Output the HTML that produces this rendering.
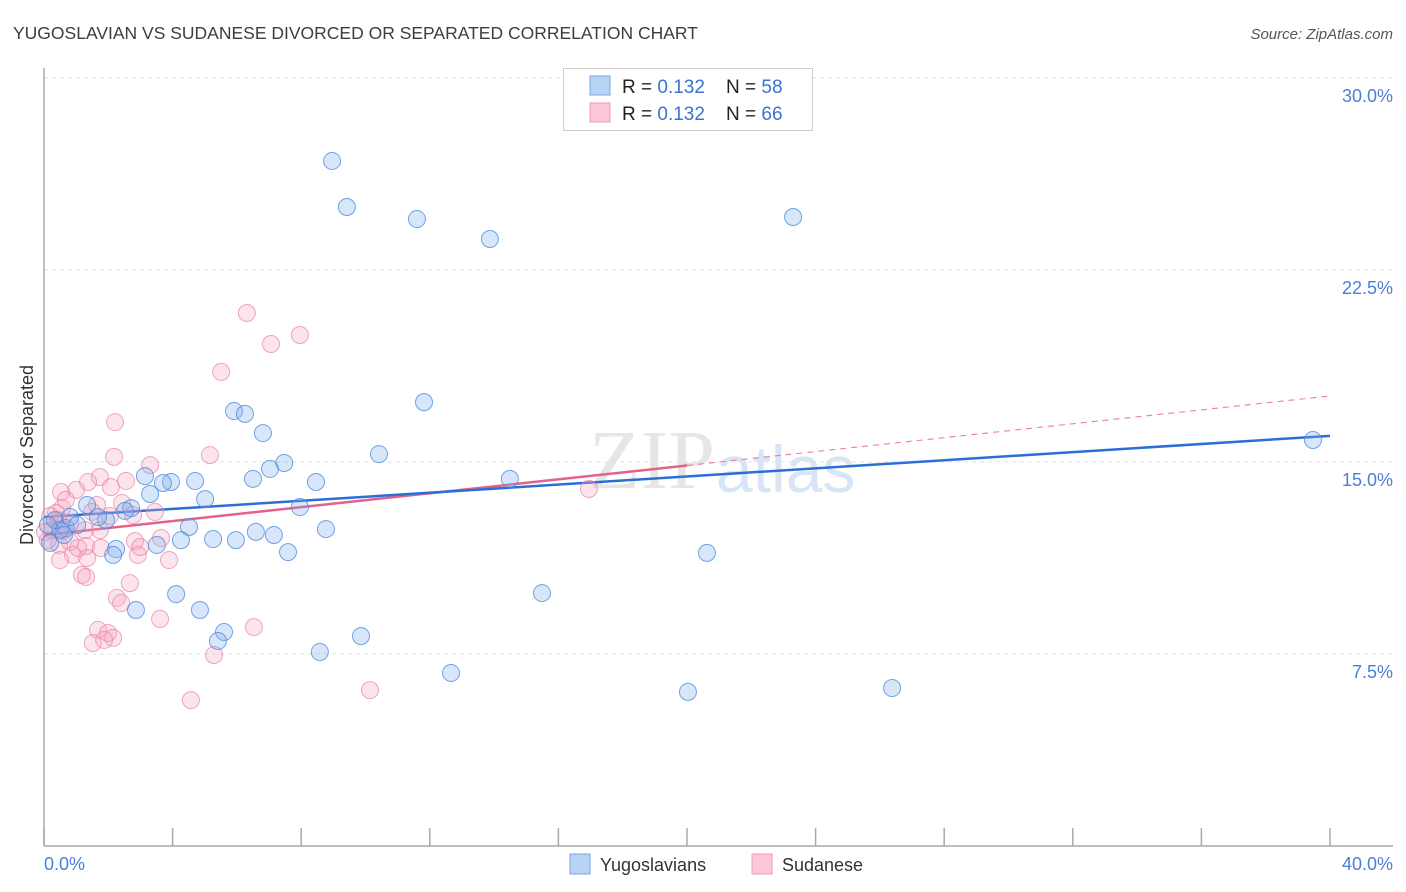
<!DOCTYPE html>
<html><head><meta charset="utf-8"><style>
body{margin:0;background:#fff;font-family:"Liberation Sans",sans-serif;}
svg{display:block}
</style></head><body>
<svg id="chart" width="1406" height="892" xmlns="http://www.w3.org/2000/svg">
<text x="13" y="39" font-size="17.5" fill="#3d3d3d">YUGOSLAVIAN VS SUDANESE DIVORCED OR SEPARATED CORRELATION CHART</text>
<text x="1393" y="39" font-size="15" fill="#555" font-style="italic" text-anchor="end">Source: ZipAtlas.com</text>
<text x="715" y="488" font-size="84" fill="#e6e6e6" font-family="Liberation Serif,serif" text-anchor="end">ZIP</text>
<text x="716" y="492" font-size="66" fill="#d8e5f4">atlas</text>
<g id="grid"></g>
<g id="axes"></g>
<g id="lines"></g>
<g id="points"></g>
<text transform="translate(33,455) rotate(-90)" font-size="18" fill="#333" text-anchor="middle">Divorced or Separated</text>
<text x="44" y="870" font-size="18" fill="#4a7fd8">0.0%</text>
<text x="1393" y="870" font-size="18" fill="#4a7fd8" text-anchor="end">40.0%</text>
<g>
<rect x="563.5" y="68.5" width="249" height="62" fill="#fff" stroke="#ccc"/>
<rect x="590" y="76" width="20" height="19" fill="#b8d4f5" stroke="#7aa8e0"/>
<rect x="590" y="103" width="20" height="19" fill="#fcc7d7" stroke="#f09ab5"/>
<text x="622" y="93" font-size="19" fill="#222">R = <tspan fill="#3a73d0">0.132</tspan></text>
<text x="726" y="93" font-size="19" fill="#222">N = <tspan fill="#3a73d0">58</tspan></text>
<text x="622" y="120" font-size="19" fill="#222">R = <tspan fill="#3a73d0">0.132</tspan></text>
<text x="726" y="120" font-size="19" fill="#222">N = <tspan fill="#3a73d0">66</tspan></text>
</g>
<g>
<rect x="570" y="854" width="20" height="20" fill="#b8d4f5" stroke="#7aa8e0"/>
<text x="600" y="871" font-size="18" fill="#333">Yugoslavians</text>
<rect x="752" y="854" width="20" height="20" fill="#fcc7d7" stroke="#f09ab5"/>
<text x="782" y="871" font-size="18" fill="#333">Sudanese</text>
</g>
</svg>
<script>
const yTicks=[7.5,15,22.5,30];
const yTickLabels=["7.5%","15.0%","22.5%","30.0%"];
const xTicks=[0,4,8,12,16,20,24,28,32,36,40];
const yugoX=[8.96,9.42,11.6,13.87,23.3,39.47,11.82,5.91,6.25,6.81,10.42,7.47,7.03,14.49,6.5,8.46,3.95,3.7,4.7,3.14,3.3,5.01,1.34,2.71,2.52,1.93,1.68,7.96,4.51,8.77,6.59,7.15,5.26,5.97,4.26,3.51,2.24,2.15,7.59,20.62,15.49,4.11,2.86,4.85,5.6,5.41,9.86,8.58,12.66,20.03,26.38,0.34,0.5,0.68,0.19,0.81,1.03,0.62,0.12];
const yugoY=[26.76,24.96,24.49,23.71,24.57,15.86,17.34,16.99,16.88,16.13,15.31,14.96,14.73,14.34,14.34,14.22,14.22,14.18,14.26,14.45,13.75,13.55,13.32,13.2,13.09,12.73,12.85,13.24,12.46,12.38,12.27,12.15,11.99,11.95,11.95,11.76,11.6,11.37,11.48,11.45,9.88,9.84,9.22,9.22,8.36,8.01,8.2,7.58,6.76,6.02,6.17,12.73,12.34,12.42,11.84,12.85,12.54,12.15,12.54];
const sudX=[6.31,7.06,7.96,5.51,2.21,5.16,3.3,2.18,1.74,1.37,2.55,2.08,1.0,0.53,1.65,3.45,2.77,2.43,0.56,0.44,0.81,1.28,2.05,1.74,1.31,1.77,2.83,3.64,2.92,2.99,0.47,0.81,0.9,3.89,1.34,1.18,1.31,2.67,2.27,2.4,3.61,6.53,1.68,1.99,2.15,1.52,1.87,5.29,4.57,10.14,16.95,0.25,0.12,0.37,0.68,1.06,1.49,0.19,0.03,0.62,0.5];
const sudY=[20.82,19.61,19.96,18.52,16.56,15.27,14.88,15.2,14.41,14.22,14.26,14.02,13.91,13.83,13.32,13.05,12.93,13.4,13.2,12.73,12.62,12.34,12.89,12.34,11.72,11.64,11.91,12.03,11.37,11.68,11.76,11.88,11.37,11.17,11.25,10.59,10.51,10.27,9.69,9.49,8.87,8.55,8.44,8.32,8.13,7.93,8.05,7.46,5.7,6.09,13.95,12.34,11.95,13.01,13.52,11.64,13.05,12.89,12.27,12.34,11.17];
const yugoTrend=[12.85,16.02];
const sudTrend=[12.15,17.58];
const sudSolidEnd=20;

const NS="http://www.w3.org/2000/svg";
const X=v=>44+v*(1286/40);
const Y=v=>846-v*25.6;
function mk(tag,attrs,parent){const e=document.createElementNS(NS,tag);for(const k in attrs)e.setAttribute(k,attrs[k]);parent.appendChild(e);return e;}
const grid=document.getElementById('grid'),axes=document.getElementById('axes'),lines=document.getElementById('lines'),pts=document.getElementById('points');
yTicks.forEach((t,i)=>{
 const l=mk('line',{x1:44,x2:1393,y1:Y(t),y2:Y(t),stroke:'#e2e2e2','stroke-dasharray':'4,4'},grid);
 
 
 const tx=mk('text',{x:1393,y:Y(t)+24,'font-size':18,fill:'#4a7fd8','text-anchor':'end'},grid);
 tx.textContent=yTickLabels[i];
 
 
});
const ya=mk('line',{x1:44,x2:44,y1:68,y2:846,stroke:'#aaa','stroke-width':1.5},axes);


const xa=mk('line',{x1:44,x2:1393,y1:846,y2:846,stroke:'#aaa','stroke-width':1.5},axes);


xTicks.forEach(t=>{
 const l=mk('line',{x1:X(t),x2:X(t),y1:828,y2:846,stroke:'#aaa','stroke-width':1.5},axes);
 
 
});
function pointsFor(xs,ys,fill,stroke,name){
 xs.forEach((x,i)=>{
  const c=mk('circle',{cx:X(x),cy:Y(ys[i]),r:8.5,fill:fill,stroke:stroke,'stroke-width':1},pts);
  
  
 });
}
pointsFor(sudX,sudY,'rgba(245,165,192,0.3)','rgba(235,130,165,0.7)','sudanese-point');
pointsFor(yugoX,yugoY,'rgba(125,172,235,0.3)','rgba(70,135,220,0.75)','yugoslavian-point');
const sAt=x=>sudTrend[0]+(sudTrend[1]-sudTrend[0])*x/40;
const d=mk('line',{x1:X(sudSolidEnd),y1:Y(sAt(sudSolidEnd)),x2:X(40),y2:Y(sudTrend[1]),stroke:'#e87fa0','stroke-width':1.1,'stroke-dasharray':'6,5'},lines);


const s=mk('line',{x1:X(0),y1:Y(sudTrend[0]),x2:X(sudSolidEnd),y2:Y(sAt(sudSolidEnd)),stroke:'#e2628c','stroke-width':2.5},lines);


const b=mk('line',{x1:X(0),y1:Y(yugoTrend[0]),x2:X(40),y2:Y(yugoTrend[1]),stroke:'#2a6fd6','stroke-width':2.5},lines);


</script>
</body></html>
